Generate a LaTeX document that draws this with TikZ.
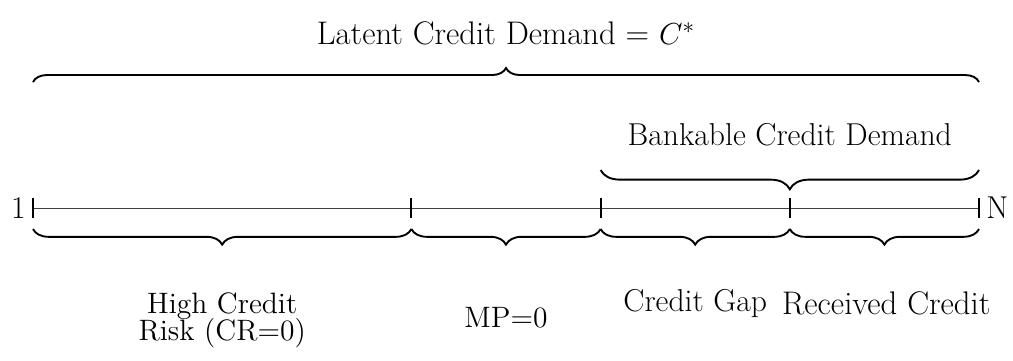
\documentclass[tikz,border=0pt]{standalone}
\usetikzlibrary{decorations.pathreplacing}

\tikzset{
  lbl/.style={font=\fontsize{15}{18}\selectfont},
  brc/.style={decorate,decoration={brace,amplitude=#1},line width=0.9pt},
  brcdown/.style={decorate,decoration={brace,mirror,amplitude=#1},line width=0.9pt},
  tickline/.style={line width=0.9pt},
  axisline/.style={line width=0.45pt,black!75}
}

\begin{document}
\begin{tikzpicture}[x=3.1533cm,y=1cm]
\useasboundingbox (-0.55cm,-2.533cm) rectangle (16.333cm,3.467cm);

\coordinate (p0) at (0,0);
\coordinate (p2) at (2,0);
\coordinate (p3) at (3,0);
\coordinate (p4) at (4,0);
\coordinate (p5) at (5,0);

\draw[axisline] (p0) -- (p5);
\foreach \p in {p0,p2,p3,p4,p5}
  \draw[tickline] ([yshift=-0.17cm]\p) -- ([yshift=0.17cm]\p);

\node[lbl,left] (one) at (p0) {1};
\node[lbl,right] (enn) at (p5) {N};

% latent demand
\draw[brc=0.233cm] ([yshift=2.1cm]p0) -- ([yshift=2.1cm]p5);
\node[lbl,anchor=base,font=\fontsize{15.5}{18}\selectfont] (latent) at (2.5,2.733) {Latent Credit Demand = $C^*$};

% bankable demand
\draw[brcdown=0.32cm] ([yshift=0.633cm]p3) -- ([yshift=0.633cm]p5);
\node[lbl,anchor=base] (bankable) at (4,1.05) {Bankable Credit Demand};

% segments
\draw[brcdown=0.26cm] ([yshift=-0.35cm]p0) -- ([yshift=-0.35cm]p2);
\draw[brcdown=0.26cm] ([yshift=-0.35cm]p2) -- ([yshift=-0.35cm]p3);
\draw[brcdown=0.26cm] ([yshift=-0.35cm]p3) -- ([yshift=-0.35cm]p4);
\draw[brcdown=0.26cm] ([yshift=-0.35cm]p4) -- ([yshift=-0.35cm]p5);

\node[align=center,font=\fontsize{14}{16}\selectfont] (risk) at (1,-1.87) {High Credit\\[-3.5pt]Risk (CR=0)};
\node[anchor=base,font=\fontsize{14}{16}\selectfont] (mp) at (2.5,-1.983) {MP=0};
\node[lbl,anchor=base] (gap) at (3.5,-1.717) {Credit Gap};
\node[anchor=base,font=\fontsize{15.5}{18}\selectfont] (received) at (4.51,-1.767) {Received Credit};
\end{tikzpicture}
\end{document}
